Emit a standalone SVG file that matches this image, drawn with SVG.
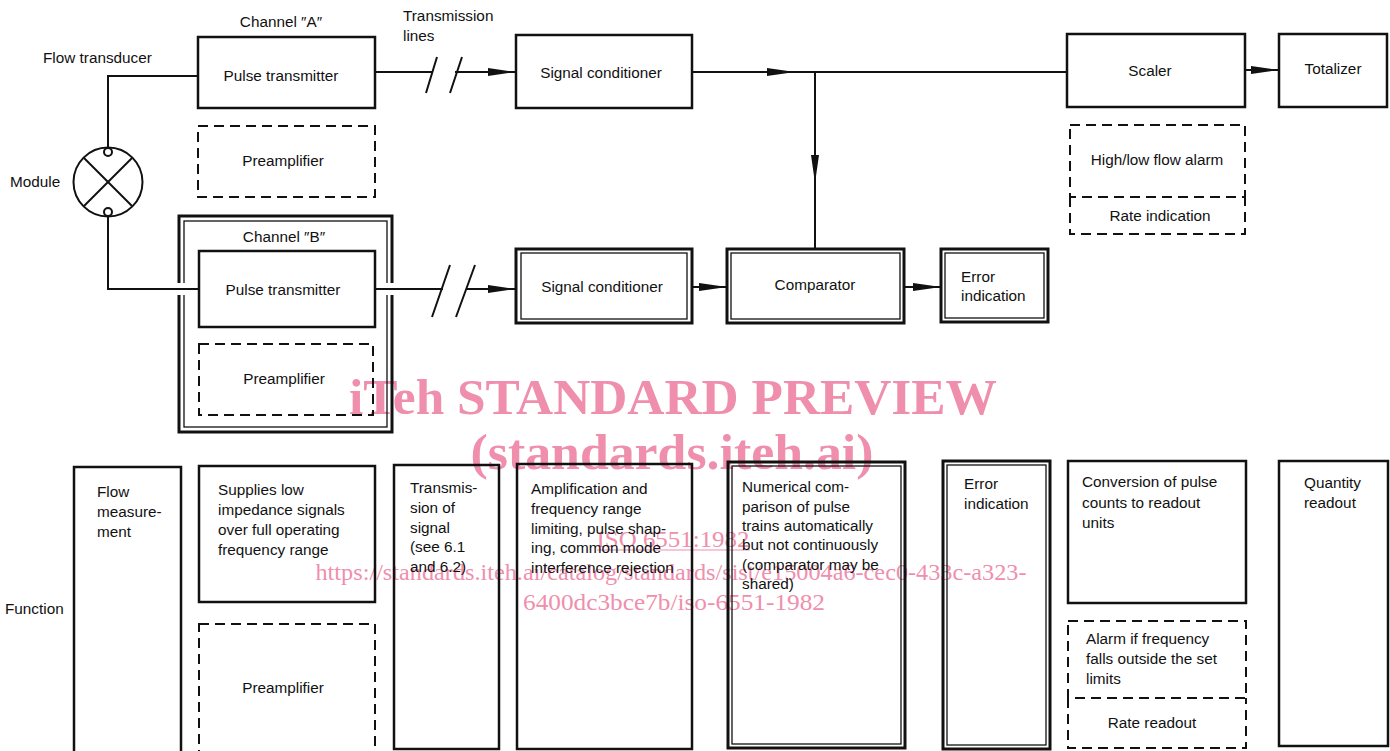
<svg xmlns="http://www.w3.org/2000/svg" width="1390" height="751" viewBox="0 0 1390 751">
<style>
.t{font-family:"Liberation Sans",Arial,sans-serif;font-size:15.3px;fill:#111}
.c{text-anchor:middle}
.b{fill:none;stroke:#111;stroke-width:2.5}
.d{fill:none;stroke:#111;stroke-width:2;stroke-dasharray:10 6}
.in{fill:none;stroke:#111;stroke-width:1.3}
.ln{fill:none;stroke:#111;stroke-width:2}
.wm{font-family:"Liberation Serif","Times New Roman",serif;fill:#ef8fad}
</style>
<defs>
<marker id="ah" markerUnits="userSpaceOnUse" markerWidth="28" markerHeight="10" refX="28" refY="5" orient="auto">
<path d="M0,1 L28,5 L0,9 z" fill="#111"/>
</marker>
</defs>
<rect width="1390" height="751" fill="#fff"/>

<g id="watermark">
<text class="wm" x="673" y="414" text-anchor="middle" font-size="50" font-weight="bold" textLength="648" lengthAdjust="spacingAndGlyphs">iTeh STANDARD PREVIEW</text>
<text class="wm" x="672" y="469" text-anchor="middle" font-size="50" font-weight="bold" textLength="403" lengthAdjust="spacingAndGlyphs">(standards.iteh.ai)</text>
<text class="wm" x="673" y="547" text-anchor="middle" font-size="23" textLength="153" lengthAdjust="spacingAndGlyphs">ISO 6551:1982</text>
<line x1="597" y1="550" x2="750" y2="550" stroke="#ef8fad" stroke-width="1"/>
<text class="wm" x="671" y="580" text-anchor="middle" font-size="23" textLength="711" lengthAdjust="spacingAndGlyphs">https://standards.iteh.ai/catalog/standards/sist/e15004a6-cec0-433c-a323-</text>
<text class="wm" x="674" y="610" text-anchor="middle" font-size="23" textLength="302" lengthAdjust="spacingAndGlyphs">6400dc3bce7b/iso-6551-1982</text>
</g>

<g id="labels">
<text class="t" x="43" y="63">Flow transducer</text>
<text class="t" x="403" y="21">Transmission</text>
<text class="t" x="403" y="41">lines</text>
<text class="t" x="10" y="187">Module</text>
<text class="t" x="5" y="614">Function</text>
</g>

<g id="module">
<circle cx="108" cy="182" r="34.5" class="ln"/>
<line x1="84" y1="158" x2="132" y2="206" class="ln"/>
<line x1="132" y1="158" x2="84" y2="206" class="ln"/>
<circle cx="108" cy="152" r="4" fill="#fff" stroke="#111" stroke-width="2"/>
<circle cx="108" cy="212" r="4" fill="#fff" stroke="#111" stroke-width="2"/>
</g>

<g id="channelA">
<text class="t c" x="281" y="27">Channel ″A″</text>
</g>
<g id="pulseA">
<rect class="b" x="198" y="37" width="177" height="71"/>
<text class="t c" x="281" y="81">Pulse transmitter</text>
</g>
<g id="preampA">
<rect class="d" x="198" y="126" width="177" height="71"/>
<text class="t c" x="283" y="166">Preamplifier</text>
</g>

<g id="channelB">
<rect x="179" y="216" width="213" height="216" fill="none" stroke="#111" stroke-width="3"/>
<rect class="in" x="184" y="221" width="203" height="206"/>
<rect x="176" y="283" width="12" height="12" fill="#fff"/>
<rect x="383" y="283" width="12" height="12" fill="#fff"/>
<text class="t c" x="284" y="242">Channel ″B″</text>
</g>
<g id="pulseB">
<rect class="b" x="199" y="251" width="176" height="76"/>
<text class="t c" x="283" y="295">Pulse transmitter</text>
</g>
<g id="preampB">
<rect class="d" x="199" y="344" width="174" height="71"/>
<text class="t c" x="284" y="384">Preamplifier</text>
</g>

<g id="sigcondA">
<rect class="b" x="516" y="35" width="176" height="73"/>
<text class="t c" x="601" y="78">Signal conditioner</text>
</g>
<g id="sigcondB">
<rect x="516" y="249" width="176" height="74" fill="none" stroke="#111" stroke-width="3"/>
<rect class="in" x="521" y="253" width="166" height="66"/>
<text class="t c" x="602" y="292">Signal conditioner</text>
</g>
<g id="comparator">
<rect x="727" y="249" width="177" height="74" fill="none" stroke="#111" stroke-width="3"/>
<rect class="in" x="731" y="253" width="169" height="66"/>
<text class="t c" x="815" y="290">Comparator</text>
</g>
<g id="error">
<rect x="941" y="249" width="107" height="73" fill="none" stroke="#111" stroke-width="3"/>
<rect class="in" x="945" y="253" width="99" height="65"/>
<text class="t" x="961" y="282">Error</text>
<text class="t" x="961" y="301">indication</text>
</g>
<g id="scaler">
<rect class="b" x="1067" y="34" width="178" height="73"/>
<text class="t c" x="1150" y="76">Scaler</text>
</g>
<g id="totalizer">
<rect class="b" x="1279" y="34" width="108" height="73"/>
<text class="t c" x="1333" y="74">Totalizer</text>
</g>
<g id="alarm">
<rect class="d" x="1070" y="125" width="175" height="72"/>
<text class="t c" x="1157" y="165">High/low flow alarm</text>
</g>
<g id="rateind">
<path class="d" d="M1070,197 V234 H1245 V197"/>
<text class="t c" x="1160" y="221">Rate indication</text>
</g>

<g id="connectors">
<path class="ln" d="M108,148 V76 H198"/>
<path class="ln" d="M108,216 V289 H199"/>
<path class="ln" d="M375,72 H433"/>
<path class="ln" d="M455,72 H516" marker-end="url(#ah)"/>
<path class="ln" d="M437,57 L426,93 M462,57 L450,93" stroke-width="1.6"/>
<path class="ln" d="M375,289 H443"/>
<path class="ln" d="M467,289 H516" marker-end="url(#ah)"/>
<path class="ln" d="M450,265 L432,317 M475,265 L456,317" stroke-width="1.6"/>
<path class="ln" d="M692,72 H795" marker-end="url(#ah)"/>
<path class="ln" d="M795,72 H1067"/>
<path class="ln" d="M815,72 V183" marker-end="url(#ah)"/>
<path class="ln" d="M815,183 V249"/>
<path class="ln" d="M692,287 H727" marker-end="url(#ah)"/>
<path class="ln" d="M904,287 H941" marker-end="url(#ah)"/>
<path class="ln" d="M1245,70 H1279" marker-end="url(#ah)"/>
</g>

<g id="f-flow">
<rect class="b" x="74" y="467" width="107" height="300"/>
<text class="t" x="97" y="497">Flow</text>
<text class="t" x="97" y="517">measure-</text>
<text class="t" x="97" y="537">ment</text>
</g>
<g id="f-supplies">
<rect class="b" x="199" y="466" width="176" height="136"/>
<text class="t" x="218" y="495">Supplies low</text>
<text class="t" x="218" y="515">impedance signals</text>
<text class="t" x="218" y="535">over full operating</text>
<text class="t" x="218" y="555">frequency range</text>
</g>
<g id="f-preamp">
<rect class="d" x="199" y="624" width="176" height="140"/>
<text class="t c" x="283" y="693">Preamplifier</text>
</g>
<g id="f-transmission">
<rect class="b" x="394" y="465" width="105" height="284"/>
<text class="t" x="410" y="493">Transmis-</text>
<text class="t" x="410" y="513">sion of</text>
<text class="t" x="410" y="533">signal</text>
<text class="t" x="410" y="552">(see 6.1</text>
<text class="t" x="410" y="572">and 6.2)</text>
</g>
<g id="f-amplification">
<rect class="b" x="517" y="464" width="175" height="285"/>
<text class="t" x="531" y="494">Amplification and</text>
<text class="t" x="531" y="514">frequency range</text>
<text class="t" x="531" y="534">limiting, pulse shap-</text>
<text class="t" x="531" y="553">ing, common mode</text>
<text class="t" x="531" y="573">interference rejection</text>
</g>
<g id="f-numerical">
<rect x="728" y="462" width="177" height="286" fill="none" stroke="#111" stroke-width="3"/>
<rect class="in" x="732" y="466" width="169" height="278"/>
<text class="t" x="742" y="492">Numerical com-</text>
<text class="t" x="742" y="512">parison of pulse</text>
<text class="t" x="742" y="531">trains automatically</text>
<text class="t" x="742" y="550">but not continuously</text>
<text class="t" x="742" y="570">(comparator may be</text>
<text class="t" x="742" y="589">shared)</text>
</g>
<g id="f-error">
<rect x="943" y="461" width="107" height="288" fill="none" stroke="#111" stroke-width="3"/>
<rect class="in" x="947" y="465" width="99" height="280"/>
<text class="t" x="964" y="489">Error</text>
<text class="t" x="964" y="509">indication</text>
</g>
<g id="f-conversion">
<rect class="b" x="1068" y="461" width="178" height="142"/>
<text class="t" x="1082" y="487">Conversion of pulse</text>
<text class="t" x="1082" y="508">counts to readout</text>
<text class="t" x="1082" y="528">units</text>
</g>
<g id="f-alarm">
<rect class="d" x="1068" y="621" width="178" height="77"/>
<text class="t" x="1086" y="644">Alarm if frequency</text>
<text class="t" x="1086" y="664">falls outside the set</text>
<text class="t" x="1086" y="684">limits</text>
</g>
<g id="f-rate">
<path class="d" d="M1068,698 V748 H1246 V698"/>
<text class="t c" x="1152" y="728">Rate readout</text>
</g>
<g id="f-quantity">
<rect class="b" x="1279" y="461" width="109" height="285"/>
<text class="t" x="1304" y="488">Quantity</text>
<text class="t" x="1304" y="508">readout</text>
</g>
</svg>
